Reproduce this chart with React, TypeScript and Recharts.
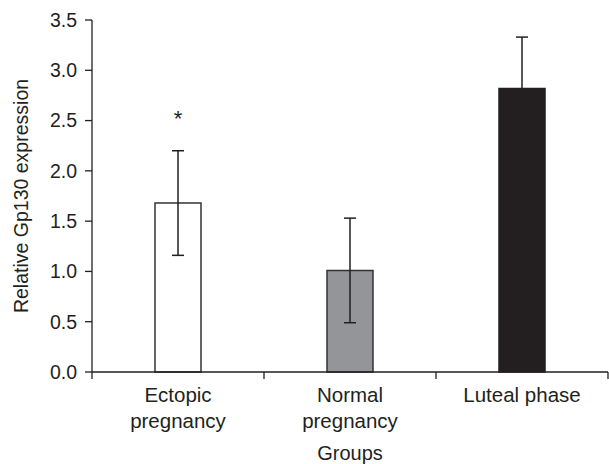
import React from 'react';
import { BarChart, Bar, XAxis, YAxis, ErrorBar, LabelList, Cell } from 'recharts';

const categories = ['Ectopic\npregnancy', 'Normal\npregnancy', 'Luteal phase'];
const values = [1.68, 1.01, 2.82];
const errors = [0.52, 0.52, 0.51];
const marks = ['*', '', ''];
const yTicks = [0, 0.5, 1, 1.5, 2, 2.5, 3, 3.5];
const fills = ['#ffffff', '#939598', '#231f20'];
const strokes = ['#333333', '#333333', '#231f20'];

const data = categories.map((c, i) => ({ name: c, value: values[i], err: errors[i], sig: marks[i] }));

const FONT = '"Liberation Sans", Arial, sans-serif';
const TXT = '#231f20';
const X_MARGIN = 15;

const CatTick = (props: any) => {
  const { x, y, payload, index, visibleTicksCount } = props;
  const half = payload && payload.offset ? payload.offset : 0;
  const lines = String(payload.value).split('\n');
  const axisY = y - X_MARGIN;
  const isLast = index === (visibleTicksCount || categories.length) - 1;
  return (
    <g>
      <line x1={x - half} x2={x - half} y1={axisY} y2={axisY + 7} stroke={TXT} strokeWidth={1.3} />
      {isLast && <line x1={x + half} x2={x + half} y1={axisY} y2={axisY + 7} stroke={TXT} strokeWidth={1.3} />}
      <text x={x} y={y} textAnchor="middle" fontSize={20.5} fontFamily={FONT} fill={TXT}>
        {lines.map((l, i) => (
          <tspan key={i} x={x} dy={i === 0 ? '0.71em' : 26}>{l}</tspan>
        ))}
      </text>
    </g>
  );
};

export default function App() {
  return (
    <div style={{ position: 'absolute', left: 0, top: 0, background: '#fff' }}>
      <BarChart width={609} height={464} data={data} margin={{ top: 20, right: 1, left: 0, bottom: 0 }} barCategoryGap={0}>
        <XAxis
          dataKey="name"
          height={92}
          stroke={TXT}
          strokeWidth={1.3}
          tickLine={false}
          tickSize={0}
          tickMargin={X_MARGIN}
          interval={0}
          tick={<CatTick />}
          label={{ value: 'Groups', position: 'insideBottom', offset: 4, fontSize: 20, fontFamily: FONT, fill: TXT }}
        />
        <YAxis
          width={92}
          domain={[0, 3.5]}
          ticks={yTicks}
          tickFormatter={(v: number) => v.toFixed(1)}
          tickSize={7}
          tickMargin={8}
          stroke={TXT}
          strokeWidth={1.3}
          tick={{ fontSize: 19.5, fontFamily: FONT, fill: TXT }}
          label={{
            content: (p: any) => {
              const vb = p.viewBox || {};
              const cx = (vb.x || 0) + 21;
              const cy = (vb.y || 0) + (vb.height || 0) / 2;
              return (
                <text x={cx} y={cy} transform={`rotate(-90 ${cx} ${cy})`} textAnchor="middle" dominantBaseline="central" fontSize={19.5} fontFamily={FONT} fill={TXT}>
                  Relative Gp130 expression
                </text>
              );
            },
          }}
        />
        <Bar dataKey="value" barSize={46} isAnimationActive={false} strokeWidth={1.5}>
          {data.map((d, i) => (
            <Cell key={i} fill={fills[i]} stroke={strokes[i]} />
          ))}
          <ErrorBar dataKey="err" width={6} stroke="#231f20" strokeWidth={1.5} direction="y" />
          <LabelList dataKey="sig" position="top" offset={77} fontSize={22} fontFamily={FONT} fill={TXT} />
        </Bar>
      </BarChart>
    </div>
  );
}
